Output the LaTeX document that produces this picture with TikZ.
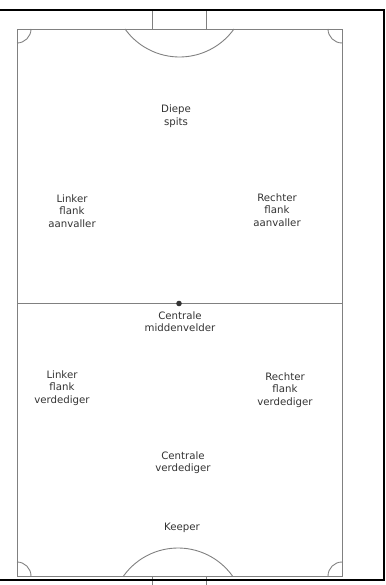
\documentclass[tikz,border=0pt]{standalone}
\usepackage{fontspec}
\setmainfont{DejaVu Sans}
\begin{document}
\begin{tikzpicture}[x=1pt,y=-1pt,
  pitch/.style={draw=black!50, line width=0.9pt},
  frame/.style={draw=black, line width=2pt},
  lbl/.style={align=center, inner sep=0pt, text=black!80, font=\fontsize{10.2}{12.8}\selectfont}]
\useasboundingbox (0,0) rectangle (385,585);
% named corner points
\coordinate (TL) at (17,29);
\coordinate (TR) at (342,29);
\coordinate (BL) at (17,576);
\coordinate (BR) at (342,576);
\coordinate (ML) at (17,303.5);
\coordinate (MR) at (342,303.5);
% pitch
\draw[pitch] (TL) rectangle (BR);
\draw[pitch] (ML) -- (MR);
\fill[black!80] (179,303.5) circle (2.8);
% top goal
\draw[pitch] (152.5,29) -- (152.5,10) (206.5,29) -- (206.5,10);
% bottom goal
\draw[pitch] (152.5,576) -- (152.5,586) (206.5,576) -- (206.5,586);
% penalty arcs
\draw[pitch] (179.5,-10) ++(144.4:67) arc[start angle=144.4, end angle=35.6, radius=67];
\draw[pitch] (178,615) ++(215.6:67) arc[start angle=215.6, end angle=324.4, radius=67];
% corner arcs
\draw[pitch] (TL) ++(0:14) arc[start angle=0, end angle=90, radius=14];
\draw[pitch] (TR) ++(90:14) arc[start angle=90, end angle=180, radius=14];
\draw[pitch] (BL) ++(0:14) arc[start angle=0, end angle=-90, radius=14];
\draw[pitch] (BR) ++(180:14) arc[start angle=180, end angle=270, radius=14];
% outer frame
\draw[frame] (0,10) -- (384,10) -- (384,580) -- (0,580);
% labels
\node[lbl] (ds) at (176,116) {Diepe\\spits};
\node[lbl] (lfa) at (72,211) {Linker\\flank\\aanvaller};
\node[lbl] (rfa) at (277,210) {Rechter\\flank\\aanvaller};
\node[lbl] (cm) at (180,321.7) {Centrale\\middenvelder};
\node[lbl] (lfv) at (62,388) {Linker\\flank\\verdediger};
\node[lbl] (rfv) at (285,390) {Rechter\\flank\\verdediger};
\node[lbl] (cv) at (183,462.7) {Centrale\\verdediger};
\node[lbl] (kp) at (182,528) {Keeper};
\end{tikzpicture}
\end{document}
